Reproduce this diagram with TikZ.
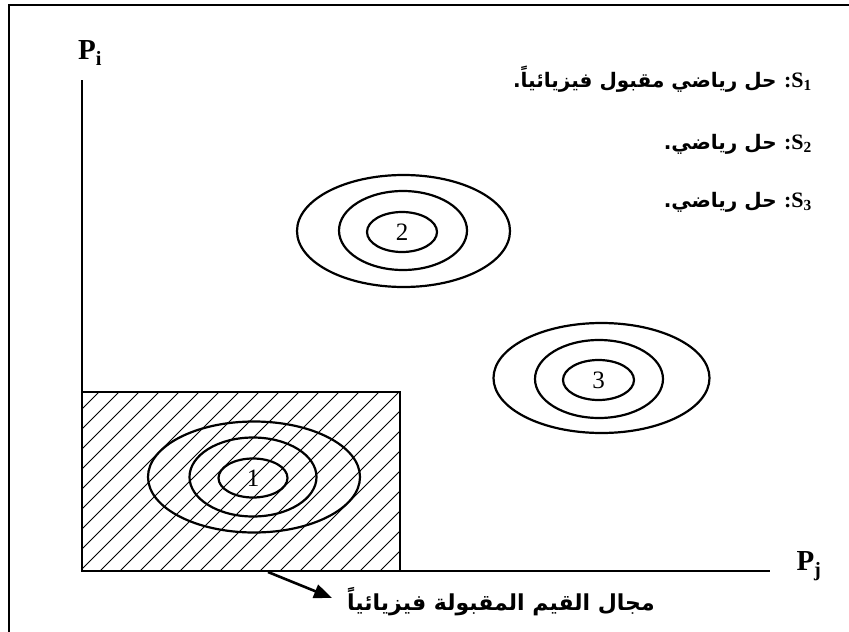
\documentclass[tikz,border=0pt]{standalone}
\usepackage{fontspec}
\setmainfont{Liberation Serif}
\newfontfamily\arabicb[Script=Arabic]{DejaVu Sans Bold}
\TeXXeTstate=1
\usetikzlibrary{shapes.geometric,arrows.meta}
\tikzset{
  ring/.style={draw, ellipse, line width=2.2pt, inner sep=0pt},
  axisline/.style={line width=2.6pt},
  hatch/.style={line width=0.8pt},
  digit/.style={font=\fontsize{25}{28}\selectfont, inner sep=0pt},
  axlabel/.style={font=\fontsize{29}{32}\selectfont\bfseries, inner sep=0pt},
  legend/.style={font=\fontsize{22}{26}\selectfont\bfseries, inner sep=0pt, anchor=base east},
}
\newcommand{\arab}[1]{{\arabicb\fontsize{20}{24}\selectfont\beginR #1\endR}}
\begin{document}
\begin{tikzpicture}[x=1pt,y=-1pt]
\useasboundingbox (0,0) rectangle (849,632);
% frame (left and top edges)
\draw[line width=2.6pt] (9,632) -- (9,5) -- (849,5);
% hatched region
\begin{scope}
  \clip (82,392) rectangle (400,571);
  \foreach \x in {-100,-80,...,400} {
    \draw[hatch] (\x,571) -- (\x+179,392);
  }
\end{scope}
\draw[line width=2.4pt] (82,392) -- (400,392) -- (400,571);
% axes
\coordinate (yt) at (82,80);
\coordinate (o) at (82,571);
\coordinate (xr) at (770,571);
\draw[axisline] (yt) -- (o) -- (xr);
\node[axlabel] (pi) at (90,53) {P\textsubscript{i}};
\node[axlabel] (pj) at (809,566) {P\textsubscript{j}};
% solution 1
\node[ring, minimum width=212pt, minimum height=111pt] (e1a) at (254,477) {};
\node[ring, minimum width=127pt, minimum height=79pt] (e1b) at (253,477) {};
\node[ring, minimum width=69pt, minimum height=39pt] (e1c) at (253,478) {};
\node[digit] (n1) at (253,478) {1};
% solution 2
\node[ring, minimum width=213pt, minimum height=112pt] (e2a) at (403.5,231) {};
\node[ring, minimum width=128pt, minimum height=79pt] (e2b) at (403,230.5) {};
\node[ring, minimum width=70pt, minimum height=40pt] (e2c) at (402,232) {};
\node[digit] (n2) at (402,232) {2};
% solution 3
\node[ring, minimum width=216pt, minimum height=110pt] (e3a) at (601.5,378) {};
\node[ring, minimum width=128pt, minimum height=78pt] (e3b) at (599,379) {};
\node[ring, minimum width=71pt, minimum height=40pt] (e3c) at (598.5,380) {};
\node[digit] (n3) at (598.5,380) {3};
% legend
\node[legend] (s1) at (812,87) {\arab{حل رياضي مقبول فيزيائياً.} :S\textsubscript{1}};
\node[legend] (s2) at (812,149) {\arab{حل رياضي.} :S\textsubscript{2}};
\node[legend] (s3) at (812,207) {\arab{حل رياضي.} :S\textsubscript{3}};
% bottom label and arrow
\node[inner sep=0pt, anchor=base] (lab) at (501,610) {{\arabicb\fontsize{22}{26}\selectfont\beginR مجال القيم المقبولة فيزيائياً\endR}};
\coordinate (hs) at (268,572);
\coordinate (tip) at (332,598);
\draw[line width=2.6pt, -{Triangle[length=18pt,width=14pt]}] (hs) -- (tip);
\end{tikzpicture}
\end{document}
